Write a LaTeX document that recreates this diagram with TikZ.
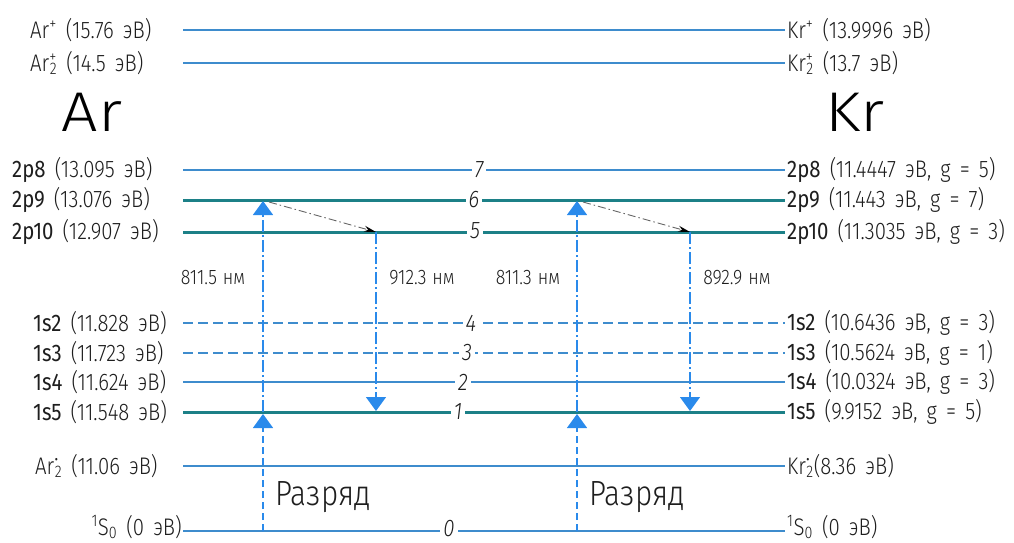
\documentclass[tikz,border=0pt]{standalone}
\usepackage{fontspec}
\setmainfont{Fira Sans Light}[FakeStretch=0.85,WordSpace=1.6]
\newfontfamily\boldf{Fira Sans}[FakeStretch=0.85,WordSpace=1.6]
\newfontfamily\bigf{Fira Sans Light}[FakeStretch=1.15]
\newfontfamily\wlf{Fira Sans Light}[FakeStretch=0.85,WordSpace=1.2]
\usetikzlibrary{arrows.meta}
\definecolor{lvc}{RGB}{62,140,205}
\definecolor{tealc}{RGB}{28,128,135}
\definecolor{arrc}{RGB}{42,138,235}
\definecolor{txtc}{RGB}{30,30,30}
\newcommand\supsub[2]{\textsuperscript{\rlap{#1}}\textsubscript{#2}}
\begin{document}
\begin{tikzpicture}[x=1pt,y=-1pt,
  lv/.style={draw=lvc,line width=1.4pt},
  lvt/.style={draw=tealc,line width=3pt},
  lvd/.style={draw=lvc,line width=1.4pt,dash pattern=on 10pt off 5pt},
  lbl/.style={font=\fontsize{24}{26}\selectfont,text=txtc,inner sep=0pt},
  wl/.style={font=\wlf\fontsize{21}{24}\selectfont,text=txtc,inner sep=0pt},
  num/.style={font=\itshape\fontsize{24}{26}\selectfont,text=txtc,fill=white,inner xsep=3pt,inner ysep=0pt},
  big/.style={font=\bigf\fontsize{56}{60}\selectfont,text=black,inner sep=0pt},
  raz/.style={font=\fontsize{35}{38}\selectfont,text=txtc,inner sep=0pt},
  vup/.style={draw=arrc,line width=1.4pt,dash pattern=on 7pt off 4pt},
  vdd/.style={draw=arrc,line width=1.4pt,dash pattern=on 12pt off 3pt on 2pt off 3pt},
  tip/.style={-{Triangle[width=20pt,length=14pt]}},
  diag/.style={draw=black!60,line width=0.9pt,dash pattern=on 8pt off 3pt on 1.5pt off 3pt,-{Stealth[length=12pt,width=6pt,color=black]}}
]
\useasboundingbox (0,0) rectangle (1014,543);

% ---- level end points
\foreach \n/\y in {ip/30,dp/63,p8/170,p9/200,p10/232,s2/323,s3/353,s4/382,s5/412,ex/466,g/531}{
  \coordinate (L\n) at (183,\y);
  \coordinate (R\n) at (785,\y);
}

% ---- level lines
\draw[lv] (Lip) -- (Rip);
\draw[lv] (Ldp) -- (Rdp);
\draw[lv] (Lp8) -- (Rp8);
\draw[lvt] (Lp9) -- (Rp9);
\draw[lvt] (Lp10) -- (Rp10);
\draw[lvd] (Ls2) -- (Rs2);
\draw[lvd] (Ls3) -- (Rs3);
\draw[lv] (Ls4) -- (Rs4);
\draw[lvt] (Ls5) -- (Rs5);
\draw[lv] (Lex) -- (Rex);
\draw[lv] (Lg) -- (Rg);

% ---- vertical transitions
\foreach \k/\xu/\xd in {A/263/376,K/577/690}{
  \coordinate (\k g) at (\xu,531);
  \coordinate (\k m) at (\xu,414);
  \coordinate (\k mm) at (\xu,412);
  \coordinate (\k t) at (\xu,201);
  \coordinate (\k a) at (\xd,232);
  \coordinate (\k b) at (\xd,411);
  \coordinate (\k d) at (\xu+6,202);
  \draw[vup,tip] (\k g) -- (\k m);
  \draw[vdd,tip] (\k mm) -- (\k t);
  \draw[vdd,tip] (\k a) -- (\k b);
  \draw[diag] (\k d) -- (\k a);
}

% ---- level numbers
\node[num] (n7) at (479,170) {7};
\node[num] (n6) at (474,200) {6};
\node[num] (n5) at (475,231) {5};
\node[num] (n4) at (471,323) {4};
\node[num] (n3) at (467,353) {3};
\node[num] (n2) at (463,382) {2};
\node[num] (n1) at (458,412) {1};
\node[num] (n0) at (449,529) {0};

% ---- left labels
\node[lbl,anchor=west] (lip) at (30,30) {Ar\textsuperscript{+} (15.76 эВ)};
\node[lbl,anchor=west] (ldp) at (30,63) {Ar\supsub{+}{2} (14.5 эВ)};
\node[big] (Ar) at (92,112) {Ar};
\node[lbl,anchor=west] (lp8) at (12,170) {{\boldf 2p8} (13.095 эВ)};
\node[lbl,anchor=west] (lp9) at (12,200) {{\boldf 2p9} (13.076 эВ)};
\node[lbl,anchor=west] (lp10) at (12,232) {{\boldf 2p10} (12.907 эВ)};
\node[lbl,anchor=west] (ls2) at (33,323) {{\boldf 1s2} (11.828 эВ)};
\node[lbl,anchor=west] (ls3) at (33,353) {{\boldf 1s3} (11.723 эВ)};
\node[lbl,anchor=west] (ls4) at (33,382) {{\boldf 1s4} (11.624 эВ)};
\node[lbl,anchor=west] (ls5) at (33,412) {{\boldf 1s5} (11.548 эВ)};
\node[lbl,anchor=west] (lex) at (35,466) {Ar\supsub{•}{2} (11.06 эВ)};
\node[lbl,anchor=east] (lg) at (182,527) {\textsuperscript{1}S\textsubscript{0} (0 эВ)};

% ---- right labels
\node[lbl,anchor=west] (rip) at (787,30) {Kr\textsuperscript{+} (13.9996 эВ)};
\node[lbl,anchor=west] (rdp) at (787,63) {Kr\supsub{+}{2} (13.7 эВ)};
\node[big] (Kr) at (855,112) {Kr};
\node[lbl,anchor=west] (rp8) at (787,170) {{\boldf 2p8} (11.4447 эВ, g = 5)};
\node[lbl,anchor=west] (rp9) at (787,200) {{\boldf 2p9} (11.443 эВ, g = 7)};
\node[lbl,anchor=west] (rp10) at (787,232) {{\boldf 2p10} (11.3035 эВ, g = 3)};
\node[lbl,anchor=west] (rs2) at (787,323) {{\boldf 1s2} (10.6436 эВ, g = 3)};
\node[lbl,anchor=west] (rs3) at (787,353) {{\boldf 1s3} (10.5624 эВ, g = 1)};
\node[lbl,anchor=west] (rs4) at (787,382) {{\boldf 1s4} (10.0324 эВ, g = 3)};
\node[lbl,anchor=west] (rs5) at (787,412) {{\boldf 1s5} (9.9152 эВ, g = 5)};
\node[lbl,anchor=west] (rex) at (787,466) {Kr\supsub{•}{2}(8.36 эВ)};
\node[lbl,anchor=west] (rg) at (787,527) {\textsuperscript{1}S\textsubscript{0} (0 эВ)};

% ---- wavelength labels
\node[wl] (w1) at (213,278) {811.5 нм};
\node[wl] (w2) at (422,278) {912.3 нм};
\node[wl] (w3) at (528,278) {811.3 нм};
\node[wl] (w4) at (737,278) {892.9 нм};

% ---- discharge labels
\node[raz] (d1) at (323,497) {Разряд};
\node[raz] (d2) at (637,497) {Разряд};
\end{tikzpicture}
\end{document}
